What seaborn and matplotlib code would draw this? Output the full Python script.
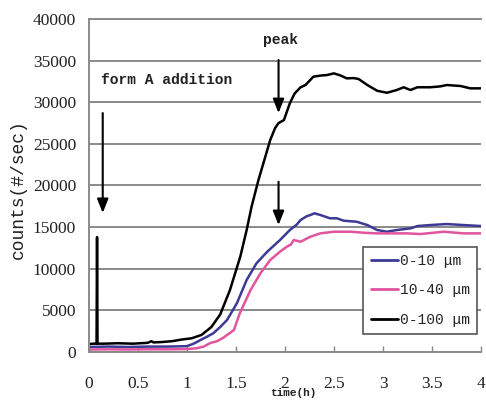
import matplotlib
matplotlib.use("Agg")
import matplotlib.pyplot as plt
import seaborn as sns
import pandas as pd

# Particle counts (#/sec) versus time (h) for three size ranges
time_0_100 = [0, 0.05, 0.08, 0.085, 0.09, 0.15, 0.3, 0.45, 0.6, 0.64, 0.66, 0.75, 0.85,
              0.95, 1.05, 1.15, 1.25, 1.34, 1.44, 1.545, 1.61, 1.66, 1.73, 1.78, 1.85,
              1.90, 1.935, 1.99, 2.05, 2.1, 2.16, 2.21, 2.29, 2.36, 2.43, 2.5, 2.57,
              2.63, 2.70, 2.75, 2.84, 2.94, 3.04, 3.14, 3.21, 3.28, 3.35, 3.48, 3.58,
              3.65, 3.79, 3.89, 4.0]
counts_0_100 = [950, 1000, 1000, 13800, 1000, 1000, 1050, 1000, 1100, 1300, 1150, 1200, 1300,
                1500, 1650, 2050, 3000, 4500, 7450, 11450, 14650, 17450, 20650, 22650, 25460,
                26900, 27500, 27860, 29870, 31070, 31800, 32070, 33070, 33200, 33270, 33470, 33200,
                32870, 32900, 32800, 32070, 31380, 31140, 31470, 31800, 31470, 31800, 31800, 31900,
                32070, 31950, 31670, 31670]

time_0_10 = [0, 0.2, 0.4, 0.6, 0.8, 1.0, 1.07, 1.14, 1.2, 1.27, 1.34, 1.41, 1.51, 1.61,
             1.71, 1.82, 1.95, 2.05, 2.12, 2.16, 2.22, 2.26, 2.3, 2.36, 2.46, 2.53, 2.6,
             2.73, 2.84, 2.94, 3.04, 3.14, 3.28, 3.35, 3.48, 3.65, 3.82, 4.0]
counts_0_10 = [600, 650, 600, 650, 650, 700, 1000, 1440, 1800, 2250, 3000, 3840, 5850, 8650,
               10650, 12050, 13450, 14650, 15300, 15850, 16300, 16460, 16660, 16460, 16060, 16060, 15770,
               15650, 15250, 14650, 14450, 14650, 14850, 15130, 15250, 15370, 15250, 15130]

time_10_40 = [0, 0.2, 0.4, 0.6, 0.8, 1.0, 1.1, 1.17, 1.24, 1.31, 1.37, 1.48, 1.54, 1.65,
              1.75, 1.85, 1.95, 2.02, 2.06, 2.09, 2.16, 2.26, 2.36, 2.5, 2.67, 2.8, 2.94,
              3.07, 3.24, 3.38, 3.62, 3.82, 4.0]
counts_10_40 = [300, 320, 300, 330, 320, 350, 450, 640, 1080, 1300, 1700, 2640, 4650, 7450,
                9450, 11050, 12050, 12650, 12900, 13450, 13250, 13850, 14250, 14450, 14450, 14330, 14250,
                14250, 14250, 14170, 14450, 14250, 14250]

series_labels = ["0-10 μm", "10-40 μm", "0-100 μm"]
series_colors = ["#3c3a96", "#e0559e", "#000000"]

x_ticks = [0, 0.5, 1, 1.5, 2, 2.5, 3, 3.5, 4]
x_tick_labels = ["0", "0.5", "1", "1.5", "2", "2.5", "3", "3.5", "4"]
y_ticks = [0, 5000, 10000, 15000, 20000, 25000, 30000, 35000, 40000]

frames = []
for lab, t, c in zip(series_labels,
                     [time_0_10, time_10_40, time_0_100],
                     [counts_0_10, counts_10_40, counts_0_100]):
    frames.append(pd.DataFrame({"time": t, "counts": c, "size": lab}))
df = pd.concat(frames, ignore_index=True)

sns.set_style("white")
mono = "Liberation Mono"
serif = "Liberation Serif"
ink = "#222222"

fig = plt.figure(figsize=(4.86, 4.0), dpi=100)
ax = fig.add_axes([0.1825, 0.12, 0.8075, 0.8325])

sns.lineplot(data=df, x="time", y="counts", hue="size", hue_order=series_labels,
             palette=dict(zip(series_labels, series_colors)), estimator=None,
             sort=True, linewidth=1.8, ax=ax)

ax.set_xlim(0, 4)
ax.set_ylim(0, 40000)
ax.set_xticks(x_ticks)
ax.set_xticklabels(x_tick_labels, fontfamily=serif, fontsize=12.5, color=ink)
ax.set_yticks(y_ticks)
ax.set_yticklabels([str(v) for v in y_ticks], fontfamily=serif, fontsize=12.5, color=ink)
ax.tick_params(axis="x", direction="in", length=4, width=1, color="#888888", pad=17, bottom=True)
ax.tick_params(axis="y", length=0, pad=9)
ax.yaxis.grid(True, color="#8a8a8a", linewidth=1.4)
ax.set_axisbelow(True)
ax.set_xlabel("")
ax.set_ylabel("")

for side in ["left", "bottom", "top"]:
    ax.spines[side].set_visible(True)
    ax.spines[side].set_color("#8a8a8a")
    ax.spines[side].set_linewidth(1.4)
ax.spines["right"].set_visible(False)

# Arrows marking the addition time and the peak
arrow = dict(arrowstyle="-|>,head_length=0.7,head_width=0.28", color="black",
             lw=1.5, mutation_scale=12, shrinkA=0, shrinkB=0)
ax.annotate("", xy=(0.143, 16700), xytext=(0.143, 28700), arrowprops=arrow)
ax.annotate("", xy=(1.935, 28700), xytext=(1.935, 35070), arrowprops=arrow)
ax.annotate("", xy=(1.935, 15250), xytext=(1.935, 20450), arrowprops=arrow)
ax.text(0.126, 32670, "form A addition", fontfamily=mono, fontsize=10.5, fontweight="bold",
        ha="left", va="center", color=ink)
ax.text(1.952, 37470, "peak", fontfamily=mono, fontsize=10.5, fontweight="bold",
        ha="center", va="center", color=ink)

fig.text(0.037, 0.5275, "counts(#/sec)", rotation=90, fontfamily=mono, fontsize=13,
         ha="center", va="center", color=ink)
fig.text(0.603, 0.017, "time(h)", fontfamily=mono, fontsize=8, fontweight="bold",
         ha="center", va="center", color=ink)

leg = ax.legend(loc="upper left", bbox_to_anchor=(0.70, 0.316), prop={"family": mono, "size": 10.5},
                frameon=True, fancybox=False, framealpha=1, edgecolor="#555555",
                handlelength=1.85, handletextpad=0.15, labelspacing=1.05, borderpad=0.5,
                borderaxespad=0)
leg.get_frame().set_linewidth(1.2)
for line in leg.get_lines():
    line.set_linewidth(2.0)

fig.savefig("out.png", dpi=100, facecolor="white")
